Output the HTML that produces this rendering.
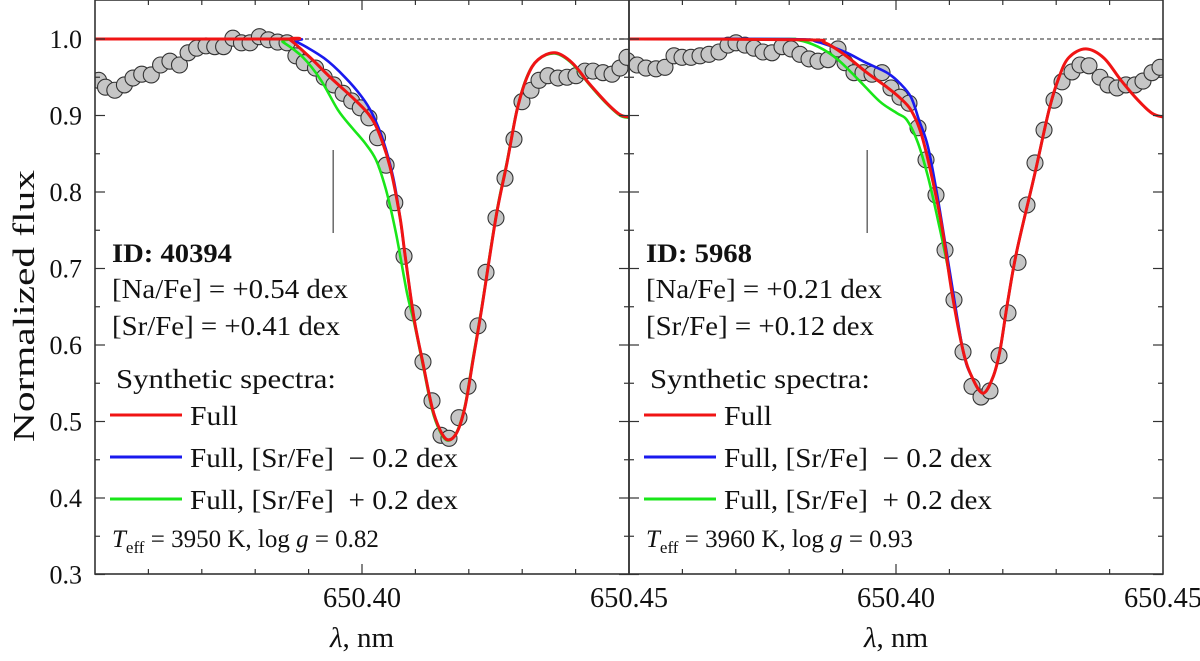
<!DOCTYPE html>
<html><head><meta charset="utf-8"><style>
html,body{margin:0;padding:0;background:#fff;width:1200px;height:661px;overflow:hidden}
svg{display:block}
svg, svg text{font-family:"Liberation Serif","Times New Roman",Times,"DejaVu Serif",serif;fill:#111}
</style></head><body>
<svg id="chart" width="1200" height="661" viewBox="0 0 1200 661" xmlns="http://www.w3.org/2000/svg" font-family="Liberation Serif, Times New Roman, serif"></svg>
<script>
// ---------- DATA ----------
const obsLamL = [650.35067,650.35197,650.35371,650.35551,650.35712,650.35875,650.36054,650.36228,650.36403,650.36582,650.36743,650.36904,650.37079,650.37242,650.37408,650.37582,650.37743,650.37904,650.38079,650.38247,650.38421,650.38596,650.38762,650.38918,650.39129,650.39292,650.39472,650.39646,650.39807,650.39968,650.40129,650.40290,650.40451,650.40614,650.40787,650.40955,650.41142,650.41311,650.41479,650.41629,650.41816,650.41985,650.42172,650.42322,650.42509,650.42678,650.42846,650.42996,650.43165,650.43315,650.43483,650.43670,650.43839,650.44007,650.44176,650.44326,650.44513,650.44682,650.44831,650.44963];
const obsFluxL = [0.946,0.937,0.933,0.940,0.949,0.954,0.953,0.966,0.971,0.966,0.982,0.988,0.991,0.990,0.990,1.001,0.995,0.995,1.003,0.999,0.996,0.995,0.978,0.969,0.962,0.950,0.940,0.929,0.919,0.910,0.897,0.871,0.835,0.786,0.716,0.642,0.578,0.527,0.482,0.478,0.505,0.546,0.625,0.695,0.766,0.818,0.869,0.918,0.933,0.946,0.952,0.949,0.950,0.952,0.958,0.958,0.956,0.954,0.962,0.976];
const redLamL = [650.35,650.38558,650.38652,650.39026,650.39419,650.39813,650.40131,650.40318,650.40524,650.40712,650.40805,650.40974,650.41142,650.41311,650.41461,650.41610,650.41779,650.41929,650.42079,650.42247,650.42509,650.42715,650.42903,650.43090,650.43296,650.43614,650.43933,650.44251,650.44588,650.44831,650.45];
const redFluxL = [1,1,0.999,0.976,0.949,0.924,0.901,0.877,0.833,0.767,0.718,0.635,0.576,0.519,0.489,0.476,0.486,0.519,0.580,0.650,0.767,0.838,0.907,0.950,0.973,0.982,0.969,0.942,0.916,0.901,0.898];
const blueLamL = [650.35,650.38558,650.38783,650.39288,650.39682,650.40000,650.40187,650.40393,650.40581,650.40712,650.40805,650.40974,650.41142,650.41311,650.41461,650.41610,650.41779,650.41929,650.42079,650.42247,650.42509,650.42715,650.42903,650.43090,650.43296,650.43614,650.43933,650.44251,650.44588,650.44831,650.45];
const blueFluxL = [1,1,0.996,0.975,0.950,0.924,0.903,0.868,0.820,0.767,0.718,0.635,0.576,0.519,0.489,0.476,0.486,0.519,0.580,0.650,0.767,0.838,0.907,0.950,0.973,0.982,0.969,0.942,0.916,0.901,0.898];
const greenLamL = [650.35,650.38371,650.38521,650.38895,650.39232,650.39551,650.39813,650.40056,650.40262,650.40449,650.40637,650.40843,650.40974,650.41142,650.41311,650.41461,650.41610,650.41779,650.41929,650.42079,650.42247,650.42509,650.42715,650.42903,650.43090,650.43296,650.43614,650.43933,650.44251,650.44588,650.44831,650.45];
const greenFluxL = [1,1,0.996,0.976,0.946,0.907,0.884,0.864,0.842,0.803,0.746,0.668,0.630,0.573,0.516,0.487,0.475,0.487,0.521,0.583,0.652,0.769,0.840,0.908,0.951,0.973,0.981,0.968,0.941,0.915,0.900,0.897];

const obsLamR = [650.34963,650.35150,650.35318,650.35506,650.35674,650.35843,650.35993,650.36161,650.36330,650.36498,650.36685,650.36854,650.37004,650.37172,650.37341,650.37509,650.37678,650.37865,650.38034,650.38202,650.38371,650.38539,650.38727,650.38914,650.39045,650.39213,650.39382,650.39551,650.39738,650.39906,650.40075,650.40243,650.40412,650.40562,650.40749,650.40918,650.41086,650.41255,650.41423,650.41592,650.41760,650.41929,650.42097,650.42285,650.42453,650.42603,650.42772,650.42959,650.43109,650.43296,650.43446,650.43614,650.43820,650.43970,650.44139,650.44307,650.44476,650.44625,650.44794,650.44944];
const obsFluxR = [0.972,0.966,0.962,0.961,0.963,0.978,0.976,0.976,0.978,0.980,0.983,0.992,0.995,0.992,0.988,0.983,0.982,0.990,0.987,0.980,0.974,0.971,0.973,0.987,0.969,0.956,0.956,0.954,0.956,0.936,0.924,0.916,0.884,0.842,0.796,0.724,0.659,0.591,0.546,0.532,0.540,0.586,0.642,0.708,0.783,0.838,0.881,0.920,0.944,0.957,0.966,0.965,0.950,0.940,0.936,0.940,0.940,0.945,0.956,0.963];
const redLamR = [650.35,650.38277,650.38670,650.39045,650.39438,650.39831,650.40075,650.40281,650.40468,650.40655,650.40861,650.41049,650.41255,650.41423,650.41629,650.41816,650.41948,650.42097,650.42266,650.42603,650.42865,650.43052,650.43240,650.43558,650.43895,650.44213,650.44532,650.44794,650.45];
const redFluxR = [1,0.999,0.995,0.979,0.957,0.937,0.923,0.907,0.877,0.825,0.754,0.668,0.593,0.558,0.537,0.558,0.593,0.659,0.724,0.825,0.907,0.950,0.976,0.987,0.975,0.946,0.920,0.903,0.898];
const blueLamR = [650.35,650.38000,650.38539,650.39045,650.39438,650.39831,650.40075,650.40281,650.40431,650.40599,650.40787,650.40993,650.41255,650.41423,650.41629,650.41816,650.41948,650.42097,650.42266,650.42603,650.42865,650.43052];
const blueFluxR = [1,1,0.996,0.983,0.969,0.956,0.942,0.924,0.894,0.859,0.790,0.702,0.593,0.558,0.537,0.558,0.593,0.659,0.724,0.825,0.907,0.950];
const greenLamR = [650.35,650.37800,650.38146,650.38539,650.38914,650.39307,650.39700,650.40019,650.40206,650.40412,650.40599,650.40787,650.40993,650.41255,650.41423,650.41629,650.41816,650.41948,650.42097,650.42266,650.42603,650.42865,650.43052];
const greenFluxR = [1,1,0.999,0.990,0.973,0.946,0.918,0.903,0.894,0.864,0.820,0.763,0.694,0.593,0.558,0.537,0.558,0.593,0.659,0.724,0.825,0.907,0.950];

const yTicks = [0.3,0.4,0.5,0.6,0.7,0.8,0.9,1.0];
const yTickLabels = ["0.3","0.4","0.5","0.6","0.7","0.8","0.9","1.0"];
const xMajor = [650.40,650.45];
const xMajorLabels = ["650.40","650.45"];
const markerLam = 650.3946;

// ---------- AXES ----------
const NS="http://www.w3.org/2000/svg";
const svg=document.getElementById('chart');
const X0=650.35, PXNM=5340, TOP=39, PXU=765;
const panelLeft=[95,629], PW=534, YB=574;
const FF='Liberation Serif, Times New Roman, serif';
function xs(p,l){return panelLeft[p]+(l-X0)*PXNM;}
function ys(f){return TOP+(1-f)*PXU;}
function mk(tag,attrs,parent){const e=document.createElementNS(NS,tag);for(const k in attrs)e.setAttribute(k,attrs[k]);if(tag==='text')e.setAttribute('font-family',FF);(parent||svg).appendChild(e);return e;}
function path(p,lams,fl){
  const P=lams.map((l,i)=>[xs(p,l),ys(fl[i])]);
  let d='M'+P[0][0].toFixed(1)+','+P[0][1].toFixed(1);
  for(let i=0;i<P.length-1;i++){
    const p0=P[Math.max(0,i-1)],p1=P[i],p2=P[i+1],p3=P[Math.min(P.length-1,i+2)];
    const c1=[p1[0]+(p2[0]-p0[0])/6,p1[1]+(p2[1]-p0[1])/6];
    const c2=[p2[0]-(p3[0]-p1[0])/6,p2[1]-(p3[1]-p1[1])/6];
    d+='C'+c1[0].toFixed(1)+','+c1[1].toFixed(1)+' '+c2[0].toFixed(1)+','+c2[1].toFixed(1)+' '+p2[0].toFixed(1)+','+p2[1].toFixed(1);
  }
  return d;
}
function fit(t,len){t.setAttribute('textLength',len);t.setAttribute('lengthAdjust','spacingAndGlyphs');}

const defs=mk('defs',{});
[0,1].forEach(p=>{const c=mk('clipPath',{id:'clip'+p},defs);mk('rect',{x:panelLeft[p],y:0,width:PW,height:YB},c);});

const dash=mk('line',{x1:95,x2:1163,y1:ys(1),y2:ys(1),stroke:'#555','stroke-width':1.2,'stroke-dasharray':'4,3'});



const sets=[
 {obsL:obsLamL,obsF:obsFluxL,r:[redLamL,redFluxL],b:[blueLamL,blueFluxL],g:[greenLamL,greenFluxL]},
 {obsL:obsLamR,obsF:obsFluxR,r:[redLamR,redFluxR],b:[blueLamR,blueFluxR],g:[greenLamR,greenFluxR]}
];
sets.forEach((s,p)=>{
  const grp=mk('g',{'clip-path':'url(#clip'+p+')'});
  
  
  for(let i=0;i<s.obsL.length;i++){
    const c=mk('circle',{cx:xs(p,s.obsL[i]),cy:ys(s.obsF[i]),r:8,fill:'#c6c6c6',stroke:'#333','stroke-width':1.1},grp);
    
    
  }
  const gl=mk('path',{d:path(p,s.g[0],s.g[1]),fill:'none',stroke:'#19e619','stroke-width':2.6},grp);
  
  
  const bl=mk('path',{d:path(p,s.b[0],s.b[1]),fill:'none',stroke:'#1a1aee','stroke-width':2.6},grp);
  
  
  const rl=mk('path',{d:path(p,s.r[0],s.r[1]),fill:'none',stroke:'#f01414','stroke-width':3},grp);
  
  
  const ml=mk('line',{x1:xs(p,markerLam),x2:xs(p,markerLam),y1:150,y2:233,stroke:'#444','stroke-width':1.2});
  
  
});

[0,1].forEach(p=>{
  const L=panelLeft[p],R=L+PW;
  const fr=mk('rect',{x:L,y:0,width:PW,height:YB,fill:'none',stroke:'#333','stroke-width':1.6});
  
  
  for(let k=0;k<=14;k++){const f=0.3+k*0.05;const y=ys(f);const len=(k%2==0)?10:5;
    mk('line',{x1:L,x2:L+len,y1:y,y2:y,stroke:'#333','stroke-width':1.2});
    mk('line',{x1:R,x2:R-len,y1:y,y2:y,stroke:'#333','stroke-width':1.2});}
  for(let k=1;k<10;k++){const l=X0+k*0.01;const x=xs(p,l);const len=(k==5)?10:5;
    mk('line',{x1:x,x2:x,y1:YB,y2:YB-len,stroke:'#333','stroke-width':1.2});
    mk('line',{x1:x,x2:x,y1:0,y2:len,stroke:'#333','stroke-width':1.2});}
  xMajor.forEach((l,i)=>{const t=mk('text',{x:xs(p,l),y:607,'font-size':28,'text-anchor':'middle'});t.textContent=xMajorLabels[i];fit(t,78);
    
    });
  const xt=mk('text',{x:L+267,y:647,'font-size':29,'text-anchor':'middle'});
  xt.innerHTML='<tspan font-style="italic">λ</tspan>, nm';
  
  
});
yTicks.forEach((f,i)=>{const t=mk('text',{x:82,y:ys(f)+9,'font-size':26,'text-anchor':'end'});t.textContent=yTickLabels[i];
  
  });
const yt=mk('text',{x:0,y:0,'font-size':31,'text-anchor':'middle',transform:'translate(34,306) rotate(-90)'});
yt.textContent='Normalized flux';
fit(yt,272);



const info=[
 {id:'ID: 40394',idw:120,na:'[Na/Fe] = +0.54 dex',sr:'[Sr/Fe] = +0.41 dex',te:'3950',lg:'0.82'},
 {id:'ID: 5968',idw:106,na:'[Na/Fe] = +0.21 dex',sr:'[Sr/Fe] = +0.12 dex',te:'3960',lg:'0.93'}
];
info.forEach((o,p)=>{
  const L=panelLeft[p]+17;
  const g=mk('g',{});
  
  
  let t=mk('text',{x:L,y:262,'font-size':26,'font-weight':'bold'},g);t.textContent=o.id;fit(t,o.idw);
  t=mk('text',{x:L,y:298,'font-size':27},g);t.textContent=o.na;fit(t,236);
  t=mk('text',{x:L,y:335,'font-size':27},g);t.textContent=o.sr;fit(t,228);
  t=mk('text',{x:L+4,y:388,'font-size':27},g);t.textContent='Synthetic spectra:';fit(t,220);
  const leg=[['#f01414','Full',425,'legend-full',48],['#1a1aee','Full, [Sr/Fe]  − 0.2 dex',467,'legend-minus',268],['#19e619','Full, [Sr/Fe]  + 0.2 dex',509,'legend-plus',268]];
  leg.forEach(e=>{
    const lg=mk('g',{},g);
    
    
    mk('line',{x1:L-2,x2:L+70,y1:e[2]-10,y2:e[2]-10,stroke:e[0],'stroke-width':3},lg);
    const tt=mk('text',{x:L+78,y:e[2],'font-size':27},lg);tt.setAttribute('style','white-space:pre');tt.textContent=e[1];fit(tt,e[4]);
  });
  t=mk('text',{x:L,y:547,'font-size':25},g);
  t.innerHTML='<tspan font-style="italic">T</tspan><tspan font-size="17" dy="6">eff</tspan><tspan dy="-6"> = '+o.te+' K, log </tspan><tspan font-style="italic">g</tspan><tspan> = '+o.lg+'</tspan>';
});
</script>
</body></html>
